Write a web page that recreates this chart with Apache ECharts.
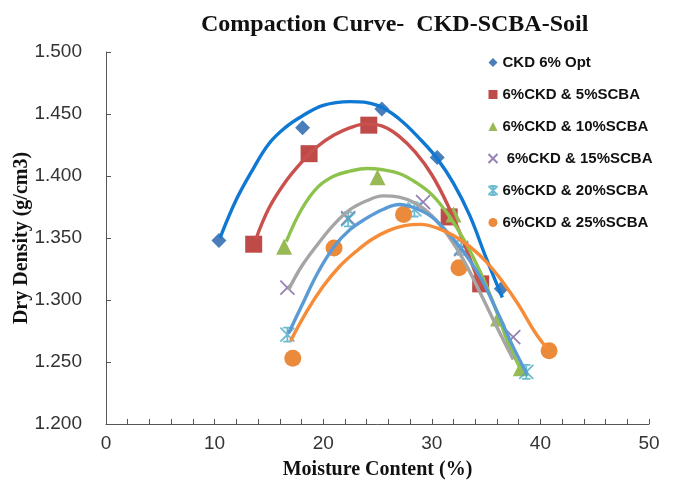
<!DOCTYPE html>
<html lang="en">
<head>
<meta charset="UTF-8">
<title>Compaction Curve - CKD-SCBA-Soil</title>
<style>
  html, body { margin: 0; padding: 0; background: #fff; }
  #chart { width: 677px; height: 486px; }
</style>
</head>
<body>
<div id="chart"></div>
<script src="https://cdn.jsdelivr.net/npm/echarts@6/dist/echarts.min.js"></script>
<script>
// measured points [moisture %, dry density]
var seriesNames = ['CKD 6% Opt', '6%CKD & 5%SCBA', '6%CKD & 10%SCBA', ' 6%CKD & 15%SCBA', '6%CKD & 20%SCBA', '6%CKD & 25%SCBA']

var ptsOpt = [[10.4, 1.348], [18.1, 1.439], [25.4, 1.454], [30.5, 1.415], [36.4, 1.309]]
var pts5 = [[13.6, 1.345], [18.7, 1.418], [24.2, 1.441], [31.6, 1.367], [34.5, 1.313]]
var pts10 = [[16.4, 1.343], [25.0, 1.399], [32.0, 1.369], [36.1, 1.285], [38.2, 1.245]]
var pts15 = [[16.7, 1.310], [22.3, 1.366], [29.2, 1.379], [32.7, 1.341], [37.5, 1.270]]
var pts20 = [[16.7, 1.272], [22.3, 1.365], [28.4, 1.373], [32.7, 1.342], [38.7, 1.242]]
var pts25 = [[17.2, 1.253], [21.0, 1.342], [27.4, 1.369], [32.5, 1.326], [40.8, 1.259]]

// trendlines
var trendOpt = [[10.5, 1.350], [12, 1.381], [13.5, 1.405], [15, 1.426], [16.5, 1.439], [18, 1.448], [20, 1.457],
  [22.5, 1.460], [25, 1.457], [27, 1.446], [29, 1.429], [30.5, 1.414], [32, 1.394], [33.5, 1.368], [35, 1.334], [36.5, 1.302]]
var trend5 = [[13.8, 1.349], [15, 1.374], [16.5, 1.395], [18, 1.411], [19.5, 1.424], [21, 1.433], [22.5, 1.439],
  [24, 1.442], [25.5, 1.440], [27, 1.432], [28.5, 1.419], [30, 1.401], [31.5, 1.376], [33, 1.345], [34.5, 1.310]]
var trend10 = [[16.6, 1.347], [18, 1.373], [19.5, 1.391], [21, 1.400], [22.5, 1.404], [24, 1.406], [25.5, 1.405],
  [27, 1.402], [28.5, 1.395], [30, 1.385], [31.5, 1.369], [33, 1.348], [34.5, 1.322], [36, 1.290], [37, 1.266], [38.2, 1.244]]
var trend15 = [[16.8, 1.308], [18, 1.327], [19.5, 1.345], [21, 1.361], [22.5, 1.373], [24, 1.380], [25.5, 1.384],
  [27, 1.383], [28.5, 1.378], [30, 1.368], [31.5, 1.352], [33, 1.331], [34.5, 1.305], [36, 1.278], [37.5, 1.252]]
var trend20 = [[16.8, 1.273], [18, 1.295], [19.5, 1.322], [21, 1.343], [22.5, 1.357], [24, 1.366], [25.5, 1.373],
  [27, 1.377], [28.5, 1.374], [30, 1.367], [31.5, 1.354], [33, 1.338], [34.5, 1.318], [36, 1.291], [37.5, 1.262], [38.8, 1.240]]
var trend25 = [[17, 1.267], [18.5, 1.291], [20, 1.311], [21.5, 1.327], [23, 1.339], [24.5, 1.349], [26, 1.356],
  [27.5, 1.360], [29, 1.361], [30.5, 1.358], [32, 1.352], [33.5, 1.343], [35, 1.331], [36.5, 1.315], [38, 1.296],
  [39.5, 1.274], [40.7, 1.260]]

var markerColors = ['#4A7EBB', '#BE4B48', '#98B954', '#7D60A0', '#46AAC5', '#EC8A3C']
var lineColors = ['#0F78D2', '#C9504D', '#8DC24C', '#A5A5A5', '#5B9BD5', '#F68C38']

var serifFont = '"Liberation Serif", "Times New Roman", serif'
var sansFont = '"Liberation Sans", Arial, sans-serif'

var pointSets = [ptsOpt, pts5, pts10, pts15, pts20, pts25]
var trendSets = [trendOpt, trend5, trend10, trend15, trend20, trend25]
var symbols = ['diamond', 'rect', 'triangle',
  'path://M0,0L10,10M10,0L0,10',
  'path://M0,0L10,10M10,0L0,10M5,0L5,10M2,0L8,0M2,10L8,10',
  'circle']
var sizes = [15, 17, 16, 14, 14, 17]

var series = []
for (var i = 0; i < 6; i++) {
  var open = i === 3 || i === 4
  series.push({
    name: seriesNames[i],
    type: 'scatter',
    data: pointSets[i],
    symbol: symbols[i],
    symbolSize: sizes[i],
    z: 2,
    itemStyle: open
      ? { color: 'none', borderColor: markerColors[i], borderWidth: 1.8 }
      : { color: markerColors[i], opacity: 1 }
  })
}
for (var j = 0; j < 6; j++) {
  series.push({
    name: 'trend' + j,
    type: 'line',
    data: trendSets[j],
    smooth: 0.4,
    showSymbol: false,
    symbol: 'none',
    z: 3,
    silent: true,
    lineStyle: { color: lineColors[j], width: 3.4 }
  })
}

var myChart = echarts.init(document.getElementById('chart'))
var option = {
  animation: false,
  backgroundColor: '#fff',
  title: {
    text: 'Compaction Curve-  CKD-SCBA-Soil',
    left: 196,
    top: 8,
    textStyle: { fontFamily: serifFont, fontWeight: 'bold', fontSize: 24, color: '#111' }
  },
  legend: {
    data: seriesNames,
    orient: 'vertical',
    left: 481,
    top: 50,
    itemWidth: 9,
    itemHeight: 9,
    itemGap: 17,
    textStyle: { fontFamily: sansFont, fontWeight: 'bold', fontSize: 15, color: '#111' }
  },
  grid: { left: 106, right: 28, top: 52, bottom: 62, containLabel: false, outerBoundsMode: 'none' },
  xAxis: {
    type: 'value',
    min: 0,
    max: 50,
    interval: 10,
    name: 'Moisture Content (%)',
    nameLocation: 'middle',
    nameGap: 36,
    nameMoveOverlap: false,
    nameTextStyle: { fontFamily: serifFont, fontWeight: 'bold', fontSize: 20, color: '#111' },
    axisLine: { show: true, lineStyle: { color: '#555', width: 1 } },
    axisTick: { show: true, inside: true, length: 5, lineStyle: { color: '#555' } },
    minorTick: { show: true, splitNumber: 5, length: 5, lineStyle: { color: '#555' } },
    axisLabel: { fontFamily: sansFont, fontSize: 19, color: '#333', margin: 10 },
    splitLine: { show: false }
  },
  yAxis: {
    type: 'value',
    min: 1.2,
    max: 1.5,
    interval: 0.05,
    name: 'Dry Density (g/cm3)',
    nameLocation: 'middle',
    nameGap: 74,
    nameMoveOverlap: false,
    nameTextStyle: { fontFamily: serifFont, fontWeight: 'bold', fontSize: 20, color: '#111' },
    axisLine: { show: true, lineStyle: { color: '#555', width: 1 } },
    axisTick: { show: true, inside: true, length: 5, lineStyle: { color: '#555' } },
    axisLabel: {
      fontFamily: sansFont, fontSize: 19, color: '#333', margin: 24,
      formatter: function (v) { return v.toFixed(3) }
    },
    splitLine: { show: false }
  },
  series: series
}
myChart.setOption(option)
</script>
</body>
</html>
